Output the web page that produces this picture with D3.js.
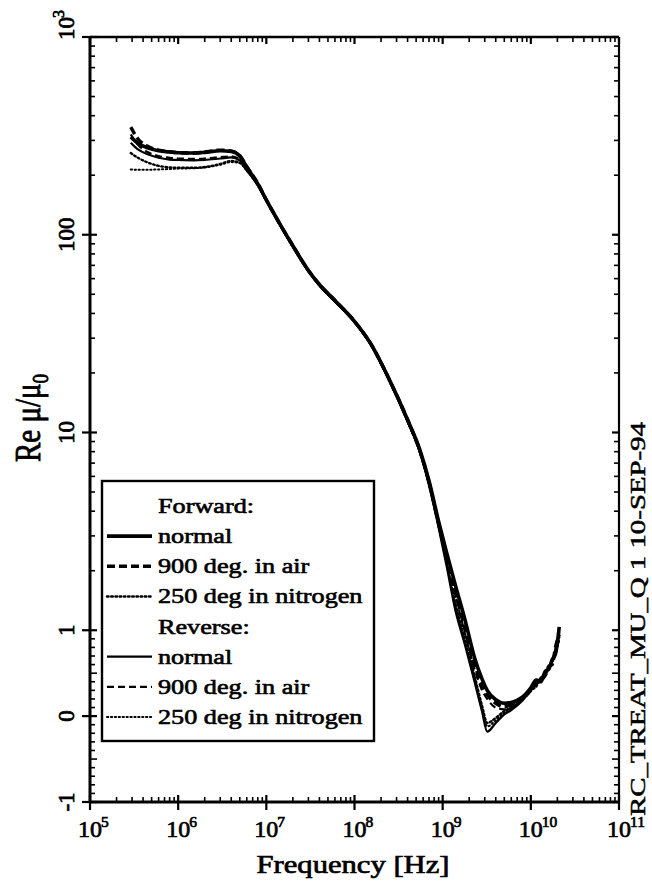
<!DOCTYPE html>
<html>
<head>
<meta charset="utf-8">
<script src="https://cdn.jsdelivr.net/npm/d3@7"></script>
<style>
  html, body { margin: 0; padding: 0; background: #fff; }
  svg { display: block; }
  text { font-family: "Liberation Serif", "Times New Roman", serif; fill: #000; }
</style>
</head>
<body>
<svg id="chart" width="652" height="882"></svg>
<script>
// ---- data -------------------------------------------------------------
// Frequency grid shared by all six sweeps (Hz)
const freqHz = [2.9e5, 3.5e5, 4.5e5, 6e5, 8e5, 1e6, 1.5e6, 2e6, 3e6, 4e6, 5e6, 6e6, 8e6,
  1e7, 1.5e7, 2e7, 3e7, 4e7, 6e7, 1e8, 1.5e8, 2.5e8, 4e8, 5.5e8, 7e8, 9e8,
  1.1e9, 1.4e9, 1.8e9, 2.3e9, 2.8e9, 3.2e9, 4e9, 5e9, 6e9, 8e9,
  1e10, 1.15e10, 1.3e10, 1.45e10, 1.6e10, 1.75e10, 1.9e10, 2.1e10];

// Re(mu)/mu0, forward sweeps
const fwdNormal = [312, 290, 275, 266, 262, 260, 259, 261, 266, 264, 250, 220, 181,
  150, 109, 88, 66, 56, 46.5, 36.5, 28.5, 18.4, 11.6, 8.2, 5.7, 3.55,
  2.5, 1.68, 1.12, 0.68, 0.43, 0.3, 0.19, 0.15, 0.16, 0.22,
  0.33, 0.42, 0.4, 0.52, 0.55, 0.66, 0.72, 1.04];
const fwdAir = [350, 305, 280, 268, 263, 260, 259, 262, 268, 265, 251, 221, 182,
  150, 109, 88, 66, 56, 46.5, 36.5, 28.5, 18.4, 11.6, 8.1, 5.6, 3.45,
  2.4, 1.55, 1.0, 0.6, 0.36, 0.25, 0.15, 0.11, 0.13, 0.2,
  0.3, 0.4, 0.42, 0.47, 0.58, 0.6, 0.8, 0.95];
const fwdN2 = [259, 245, 232, 223, 219, 218, 218, 220, 228, 236, 232, 212, 178,
  149, 108, 87, 65.5, 55.5, 46, 36.2, 28.3, 18.2, 11.4, 8.0, 5.5, 3.4,
  2.25, 1.35, 0.88, 0.47, 0.12, -0.08, -0.02, 0.06, 0.1, 0.2,
  0.31, 0.35, 0.43, 0.5, 0.54, 0.65, 0.74, 0.92];

// Re(mu)/mu0, reverse sweeps
const revNormal = [292, 270, 255, 245, 240, 239, 238, 239, 243, 246, 238, 214, 179,
  149, 108, 87, 65.5, 55.5, 46, 36.2, 28.3, 18.2, 11.4, 8.0, 5.4, 3.3,
  2.15, 1.25, 0.82, 0.4, 0.05, -0.18, -0.08, 0.02, 0.07, 0.18,
  0.3, 0.36, 0.45, 0.48, 0.57, 0.64, 0.78, 0.98];
const revAir = [322, 285, 262, 250, 245, 243, 242, 243, 247, 249, 240, 216, 180,
  150, 108.5, 87.5, 65.8, 55.8, 46.2, 36.3, 28.4, 18.3, 11.5, 8.1, 5.5, 3.4,
  2.35, 1.5, 0.95, 0.55, 0.3, 0.2, 0.1, 0.08, 0.12, 0.21,
  0.31, 0.37, 0.43, 0.5, 0.55, 0.63, 0.73, 0.9];
const revN2 = [214, 213, 213, 214, 215, 216, 217, 219, 226, 233, 230, 210, 177,
  148, 107.5, 86.5, 65.3, 55.3, 45.8, 36.1, 28.2, 18.1, 11.3, 7.9, 5.45, 3.35,
  2.2, 1.3, 0.85, 0.44, 0.1, -0.12, -0.05, 0.04, 0.09, 0.19,
  0.3, 0.34, 0.44, 0.47, 0.56, 0.61, 0.76, 0.88];

// Axis ticks
const xMajor = [1e5, 1e6, 1e7, 1e8, 1e9, 1e10, 1e11];
const xExponents = ["5", "6", "7", "8", "9", "10", "11"];
const yMajor = [-1, 0, 1, 10, 100, 1000];
const yLabels = ["-1", "0", "1", "10", "100", "10|3"];

const legendItems = [
  { head: "Forward:" },
  { key: "fwdNormal", label: "normal" },
  { key: "fwdAir", label: "900 deg. in air" },
  { key: "fwdN2", label: "250 deg in nitrogen" },
  { head: "Reverse:" },
  { key: "revNormal", label: "normal" },
  { key: "revAir", label: "900 deg. in air" },
  { key: "revN2", label: "250 deg in nitrogen" }
];

// ---- styles --------------------------------------------------------------
const styles = {
  fwdNormal: { w: 3.6, dash: null },
  fwdAir:    { w: 3.4, dash: "8,4" },
  fwdN2:     { w: 2.4, dash: "1.6,2.6" },
  revNormal: { w: 2.2, dash: null },
  revAir:    { w: 2.2, dash: "7,4" },
  revN2:     { w: 2.0, dash: "1.3,2.6" }
};
const seriesValues = { fwdNormal, fwdAir, fwdN2, revNormal, revAir, revN2 };

// ---- layout & scales -----------------------------------------------------
const plot = { left: 90, right: 619, top: 37, bottom: 802 };
const svg = d3.select("#chart");

const x = d3.scaleLog().domain([1e5, 1e11]).range([plot.left, plot.right]);

// Log above 1, linear below 1, joined smoothly (slope 1/ln10 at 1)
const tf = v => v >= 1 ? Math.log10(v) : (v - 1) / Math.LN10;
const yLin = d3.scaleLinear().domain([tf(-1), tf(1000)]).range([plot.bottom, plot.top]);
const y = v => yLin(tf(v));

// minor tick sets
const xMinor = [];
for (let e = 5; e < 11; e++) for (let m = 2; m <= 9; m++) xMinor.push(m * Math.pow(10, e));
const yMinor = [];
for (let k = 1; k <= 9; k++) { yMinor.push(-k / 10); yMinor.push(k / 10); }
for (let e = 0; e < 3; e++) for (let m = 2; m <= 9; m++) yMinor.push(m * Math.pow(10, e));

// ---- curves ---------------------------------------------------------------
const line = d3.line()
  .x(d => x(d.f))
  .y(d => y(d.v))
  .curve(d3.curveMonotoneX);

const order = ["revN2", "fwdN2", "revAir", "revNormal", "fwdAir", "fwdNormal"];
const gCurves = svg.append("g");
order.forEach(k => {
  const pts = freqHz.map((f, i) => ({ f, v: seriesValues[k][i] }));
  gCurves.append("path")
    .attr("d", line(pts))
    .attr("fill", "none")
    .attr("stroke", "#000")
    .attr("stroke-width", styles[k].w)
    .attr("stroke-linejoin", "round")
    .attr("stroke-linecap", styles[k].dash && styles[k].dash.startsWith("1") ? "round" : "butt")
    .attr("stroke-dasharray", styles[k].dash);
});

// ---- frame and ticks ------------------------------------------------------
const gAx = svg.append("g").attr("stroke", "#000");
// frame
gAx.append("line").attr("x1", plot.left).attr("x2", plot.right).attr("y1", plot.top).attr("y2", plot.top).attr("stroke-width", 2.6);
gAx.append("line").attr("x1", plot.right).attr("x2", plot.right).attr("y1", plot.top).attr("y2", plot.bottom).attr("stroke-width", 2.2);
gAx.append("line").attr("x1", plot.left).attr("x2", plot.left).attr("y1", plot.top - 1).attr("y2", plot.bottom + 1).attr("stroke-width", 3);
gAx.append("line").attr("x1", plot.left - 1).attr("x2", plot.right).attr("y1", plot.bottom).attr("y2", plot.bottom).attr("stroke-width", 3);

// x ticks: bottom and top
gAx.selectAll(".xmaj").data(xMajor).join("line")
  .attr("x1", d => x(d)).attr("x2", d => x(d))
  .attr("y1", plot.bottom - 7).attr("y2", plot.bottom + 8).attr("stroke-width", 2.2);
gAx.selectAll(".xmin").data(xMinor).join("line")
  .attr("x1", d => x(d)).attr("x2", d => x(d))
  .attr("y1", plot.bottom - 5).attr("y2", plot.bottom).attr("stroke-width", 1.6);
gAx.selectAll(".xmajT").data(xMajor).join("line")
  .attr("x1", d => x(d)).attr("x2", d => x(d))
  .attr("y1", plot.top).attr("y2", plot.top + 7).attr("stroke-width", 2.2);
gAx.selectAll(".xminT").data(xMinor).join("line")
  .attr("x1", d => x(d)).attr("x2", d => x(d))
  .attr("y1", plot.top).attr("y2", plot.top + 5).attr("stroke-width", 1.6);

// y ticks: left and right
gAx.selectAll(".ymaj").data(yMajor).join("line")
  .attr("x1", plot.left - 8).attr("x2", plot.left + 7)
  .attr("y1", d => y(d)).attr("y2", d => y(d)).attr("stroke-width", 2.2);
gAx.selectAll(".ymin").data(yMinor).join("line")
  .attr("x1", plot.left).attr("x2", d => plot.left + (Math.abs(d) === 0.5 ? 7 : 5))
  .attr("y1", d => y(d)).attr("y2", d => y(d)).attr("stroke-width", 1.6);
gAx.selectAll(".ymajR").data(yMajor).join("line")
  .attr("x1", plot.right - 7).attr("x2", plot.right)
  .attr("y1", d => y(d)).attr("y2", d => y(d)).attr("stroke-width", 2.2);
gAx.selectAll(".yminR").data(yMinor).join("line")
  .attr("x1", d => plot.right - (Math.abs(d) === 0.5 ? 7 : 5)).attr("x2", plot.right)
  .attr("y1", d => y(d)).attr("y2", d => y(d)).attr("stroke-width", 1.6);

// ---- tick labels ----------------------------------------------------------
const gLab = svg.append("g").attr("stroke", "#000").attr("stroke-width", 0.7);

// x: "10" centred on the tick, exponent appended as a superscript
xMajor.forEach((v, i) => {
  const t = gLab.append("text")
    .attr("x", x(v)).attr("y", 837)
    .attr("text-anchor", "middle")
    .attr("font-size", 24)
    .text("10");
  const w = t.node().getComputedTextLength();
  gLab.append("text")
    .attr("x", x(v) + w / 2 - 1).attr("y", 827)
    .attr("font-size", 15.5)
    .text(xExponents[i]);
});

// y: rotated labels
yMajor.forEach((v, i) => {
  const lab = yLabels[i];
  if (lab.includes("|")) {
    const [base, sup] = lab.split("|");
    const t = gLab.append("text")
      .attr("transform", `translate(74,${y(v) + 3}) rotate(-90)`)
      .attr("text-anchor", "start")
      .attr("font-size", 23);
    t.append("tspan").text(base);
    t.append("tspan").attr("font-size", 16).attr("dy", -10).attr("dx", -1).text(sup);
  } else {
    gLab.append("text")
      .attr("transform", `translate(74,${y(v)}) rotate(-90)`)
      .attr("text-anchor", "middle")
      .attr("font-size", 23)
      .text(lab);
  }
});

// ---- axis titles ----------------------------------------------------------
gLab.append("text")
  .attr("x", 353).attr("y", 873)
  .attr("text-anchor", "middle")
  .attr("font-size", 25)
  .attr("textLength", 193).attr("lengthAdjust", "spacingAndGlyphs")
  .text("Frequency [Hz]");

const yt = gLab.append("text")
  .attr("transform", "translate(40,418) scale(1.25,1) rotate(-90)")
  .attr("text-anchor", "middle")
  .attr("font-size", 29);
yt.append("tspan").text("Re μ/μ");
yt.append("tspan").attr("font-size", 19).attr("dy", 6).text("0");

// run identifier along the right edge
svg.append("text")
  .attr("transform", "translate(645,816) rotate(-90)")
  .attr("font-family", "'Liberation Mono', 'DejaVu Sans Mono', monospace")
  .attr("font-size", 21)
  .attr("stroke", "#000").attr("stroke-width", 0.5)
  .attr("textLength", 394).attr("lengthAdjust", "spacingAndGlyphs")
  .text("RC_TREAT_MU_Q 1 10-SEP-94");

// ---- legend -----------------------------------------------------------------
const leg = { x0: 102, y0: 481, x1: 374, y1: 741 };
const gLeg = svg.append("g");
gLeg.append("rect")
  .attr("x", leg.x0).attr("y", leg.y0)
  .attr("width", leg.x1 - leg.x0).attr("height", leg.y1 - leg.y0)
  .attr("fill", "#fff").attr("stroke", "#000").attr("stroke-width", 2.4);

const rowY = d3.scaleLinear().domain([0, legendItems.length - 1]).range([506, 717]);
legendItems.forEach((it, i) => {
  const cy = rowY(i);
  if (it.key) {
    const s = styles[it.key];
    gLeg.append("line")
      .attr("x1", 107).attr("x2", 152).attr("y1", cy).attr("y2", cy)
      .attr("stroke", "#000").attr("stroke-width", s.w)
      .attr("stroke-dasharray", s.dash)
      .attr("stroke-linecap", s.dash && s.dash.startsWith("1") ? "round" : "butt");
  }
  const t = gLeg.append("text")
    .attr("x", 158).attr("y", cy + 7)
    .attr("font-size", 20)
    .attr("stroke", "#000").attr("stroke-width", 0.6)
    .text(it.head || it.label);
  const w = t.node().getComputedTextLength();
  t.attr("textLength", w * 1.31).attr("lengthAdjust", "spacingAndGlyphs");
});
</script>
</body>
</html>
